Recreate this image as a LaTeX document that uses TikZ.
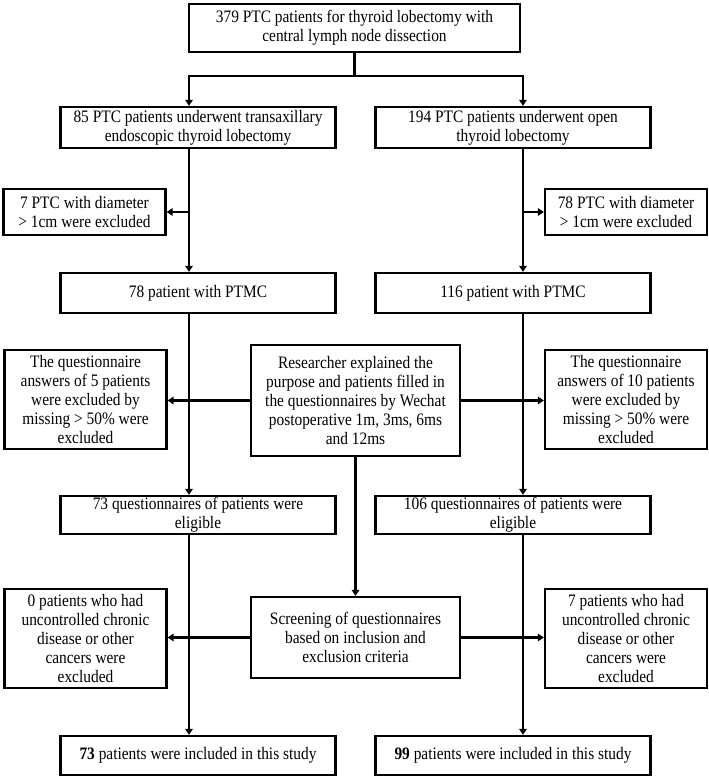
\documentclass[tikz,border=0pt]{standalone}
\usepackage{fontspec}
\setmainfont{Liberation Serif}[FakeStretch=0.88]
\usetikzlibrary{arrows.meta}
\begin{document}
\begin{tikzpicture}[x=1pt,y=1pt,
 box/.style={draw, line width=2.2pt, inner sep=0pt, align=center, font=\fontsize{17.5}{19}\selectfont},
 wide/.style={box, minimum width=275pt},
 side/.style={box, minimum width=162pt},
 mid/.style={box, minimum width=209pt},
 arr/.style={line width=2.2pt, -{Triangle[length=6pt,width=7.5pt]}},
 ln/.style={line width=2.2pt}]
\useasboundingbox (0,0) rectangle (709,-780);
% nodes
\node[box, minimum width=331pt, minimum height=48pt] (top) at (354.5,-28) {379 PTC patients for thyroid lobectomy with\\central lymph node dissection};
\node[wide, minimum height=41pt] (aL) at (198,-127.5) {85 PTC patients underwent transaxillary\\endoscopic thyroid lobectomy};
\node[wide, minimum height=41pt] (aR) at (513,-127.5) {194 PTC patients underwent open\\thyroid lobectomy};
\node[side, minimum height=46pt] (e1L) at (84.5,-212) {7 PTC with diameter\\> 1cm were excluded};
\node[side, minimum height=46pt] (e1R) at (626,-212) {78 PTC with diameter\\> 1cm were excluded};
\node[wide, minimum height=40pt] (pL) at (198,-293) {78 patient with PTMC};
\node[wide, minimum height=40pt] (pR) at (513,-293) {116 patient with PTMC};
\node[mid, minimum height=111pt] (res) at (355.5,-400.5) {Researcher explained the\\purpose and patients filled in\\the questionnaires by Wechat\\postoperative 1m, 3ms, 6ms\\and 12ms};
\node[side, minimum height=99pt] (e2L) at (85.5,-399.5) {The questionnaire\\answers of 5 patients\\were excluded by\\missing > 50\% were\\excluded};
\node[side, minimum height=99pt] (e2R) at (626,-399.5) {The questionnaire\\answers of 10 patients\\were excluded by\\missing > 50\% were\\excluded};
\node[wide, minimum height=38pt] (qL) at (198,-515) {73 questionnaires of patients were\\eligible};
\node[wide, minimum height=38pt] (qR) at (513,-515) {106 questionnaires of patients were\\eligible};
\node[mid, minimum height=81pt] (scr) at (355.5,-637.5) {Screening of questionnaires\\based on inclusion and\\exclusion criteria};
\node[side, minimum height=99pt] (e3L) at (85.5,-638.5) {0 patients who had\\uncontrolled chronic\\disease or other\\cancers were\\excluded};
\node[side, minimum height=99pt] (e3R) at (626,-638.5) {7 patients who had\\uncontrolled chronic\\disease or other\\cancers were\\excluded};
\node[wide, minimum height=39pt] (fL) at (198,-755.5) {\textbf{73} patients were included in this study};
\node[wide, minimum height=39pt] (fR) at (513,-755.5) {\textbf{99} patients were included in this study};
% connector coordinates
\coordinate (jL) at (189,-76);
\coordinate (jR) at (523,-76);
% connectors
\draw[ln] (top.south) -- (top.south |- jL);
\draw[arr] (top.south |- jL) -- (jL) -- (jL |- aL.north);
\draw[arr] (top.south |- jR) -- (jR) -- (jR |- aR.north);
\draw[arr] (jL |- aL.south) -- (jL |- pL.north);
\draw[arr] (jR |- aR.south) -- (jR |- pR.north);
\draw[arr] (jL |- e1L.east) -- (e1L.east);
\draw[arr] (jR |- e1R.west) -- (e1R.west);
\draw[arr] (jL |- pL.south) -- (jL |- qL.north);
\draw[arr] (jR |- pR.south) -- (jR |- qR.north);
\draw[arr] (res.west) -- (e2L.east |- res.west);
\draw[arr] (res.east) -- (e2R.west |- res.east);
\draw[arr] (res.south) -- (scr.north);
\draw[arr] (jL |- qL.south) -- (jL |- fL.north);
\draw[arr] (jR |- qR.south) -- (jR |- fR.north);
\draw[arr] (scr.west) -- (e3L.east |- scr.west);
\draw[arr] (scr.east) -- (e3R.west |- scr.east);
\end{tikzpicture}
\end{document}
